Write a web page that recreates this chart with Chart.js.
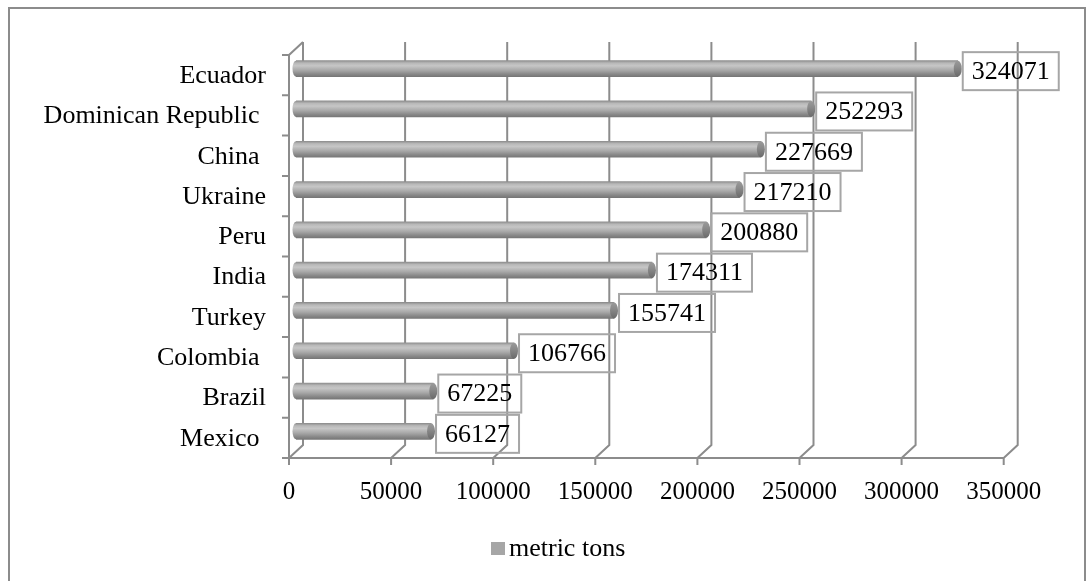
<!DOCTYPE html>
<html>
<head>
<meta charset="utf-8">
<script src="https://cdn.jsdelivr.net/npm/chart.js@4.4.1/dist/chart.umd.min.js"></script>
<style>
  html, body { margin: 0; padding: 0; background: #fff; }
  canvas { display: block; }
</style>
</head>
<body>
<canvas id="chart" width="1087" height="581"></canvas>
<script>
// data
const countries = ['Ecuador', 'Dominican Republic ', 'China ', 'Ukraine', 'Peru', 'India', 'Turkey', 'Colombia ', 'Brazil', 'Mexico '];
const tons = [324071, 252293, 227669, 217210, 200880, 174311, 155741, 106766, 67225, 66127];
const xTickValues = [0, 50000, 100000, 150000, 200000, 250000, 300000, 350000];
const seriesName = 'metric tons';

const FONT = '"Liberation Serif", "Times New Roman", serif';
const LINE = '#8c8c8c';
const DX = 7, DY = 6.5; // half depth of the 3d box

function cylGradient(ctx, yc, h) {
    const g = ctx.createLinearGradient(0, yc - h / 2, 0, yc + h / 2);
    g.addColorStop(0, '#8e8e8e');
    g.addColorStop(0.15, '#b8b8b8');
    g.addColorStop(0.32, '#c6c6c6');
    g.addColorStop(0.6, '#a8a8a8');
    g.addColorStop(0.85, '#878787');
    g.addColorStop(1, '#777777');
    return g;
}

const box3d = {
    id: 'box3d',
    beforeDatasetsDraw(chart) {
        const ctx = chart.ctx;
        const xs = chart.scales.x, ys = chart.scales.y;
        const ca = chart.chartArea;
        const fTop = ca.top + DY, fBot = ca.bottom + DY;
        const bTop = ca.top - DY, bBot = ca.bottom - DY;
        ctx.save();

        // outer frame
        ctx.strokeStyle = LINE;
        ctx.lineWidth = 2;
        ctx.strokeRect(9, 8, 1076, 600);

        ctx.beginPath();
        // back wall gridlines + floor diagonals
        xTickValues.forEach(v => {
            const px = xs.getPixelForValue(v);
            ctx.moveTo(px + DX, bTop);
            ctx.lineTo(px + DX, bBot);
            ctx.lineTo(px - DX, fBot);
            // tick below floor
            ctx.moveTo(px - DX, fBot);
            ctx.lineTo(px - DX, fBot + 7);
        });
        // left wall
        const x0 = xs.getPixelForValue(0);
        ctx.moveTo(x0 - DX, fBot);
        ctx.lineTo(x0 - DX, fTop);
        ctx.lineTo(x0 + DX, bTop);
        // floor front line
        ctx.moveTo(x0 - DX - 7, fBot);
        ctx.lineTo(xs.getPixelForValue(xTickValues[xTickValues.length - 1]) - DX, fBot);
        // category ticks on the left
        const step = (ca.bottom - ca.top) / countries.length;
        for (let k = 0; k <= countries.length; k++) {
            const ty = fTop + k * step;
            ctx.moveTo(x0 - DX - 7, ty);
            ctx.lineTo(x0 - DX, ty);
        }
        ctx.stroke();

        // x tick labels
        ctx.fillStyle = '#000';
        ctx.font = '25px ' + FONT;
        ctx.textAlign = 'center';
        ctx.textBaseline = 'middle';
        xTickValues.forEach(v => {
            ctx.fillText(String(v), xs.getPixelForValue(v) - DX, fBot + 34);
        });

        // category labels (trailing spaces kept as in the source)
        ctx.font = '26px ' + FONT;
        ctx.textAlign = 'right';
        countries.forEach((c, i) => {
            ctx.fillText(c, 266, ys.getPixelForValue(i) + DY + 1);
        });

        // legend
        ctx.fillStyle = '#a6a6a6';
        ctx.fillRect(491, 542, 14, 13);
        ctx.fillStyle = '#000';
        ctx.textAlign = 'left';
        ctx.textBaseline = 'alphabetic';
        ctx.font = '26px ' + FONT;
        ctx.fillText(seriesName, 509, 556);

        // left caps of cylinders
        const meta = chart.getDatasetMeta(0);
        meta.data.forEach(bar => {
            ctx.fillStyle = cylGradient(ctx, bar.y, bar.height);
            ctx.beginPath();
            ctx.ellipse(bar.base, bar.y, 3.5, bar.height / 2, 0, Math.PI / 2, Math.PI * 1.5);
            ctx.fill();
        });
        ctx.restore();
    },
    afterDatasetsDraw(chart) {
        const ctx = chart.ctx;
        const meta = chart.getDatasetMeta(0);
        ctx.save();
        meta.data.forEach((bar, i) => {
            // right end cap
            const g = ctx.createLinearGradient(0, bar.y - bar.height / 2, 0, bar.y + bar.height / 2);
            g.addColorStop(0, '#9a9a9a');
            g.addColorStop(0.4, '#8a8a8a');
            g.addColorStop(1, '#6a6a6a');
            ctx.fillStyle = g;
            ctx.beginPath();
            ctx.ellipse(bar.x, bar.y, 4, bar.height / 2, 0, 0, Math.PI * 2);
            ctx.fill();

            // data label box
            ctx.font = '26px ' + FONT;
            const txt = String(tons[i]);
            const w = ctx.measureText(txt).width + 18;
            const h = 38;
            const bx = bar.x + 5, by = bar.y + 2.5 - h / 2;
            ctx.strokeStyle = '#a6a6a6';
            ctx.lineWidth = 2;
            ctx.strokeRect(bx, by, w, h);
            ctx.fillStyle = '#000';
            ctx.textAlign = 'center';
            ctx.textBaseline = 'middle';
            ctx.fillText(txt, bx + w / 2, by + h / 2 + 1);
        });
        ctx.restore();
    }
};

new Chart(document.getElementById('chart'), {
    type: 'bar',
    data: {
        labels: countries,
        datasets: [{
            label: seriesName,
            data: tons,
            barThickness: 16,
            borderWidth: 0,
            backgroundColor: (c) => {
                const chart = c.chart;
                if (!chart.chartArea || c.dataIndex === undefined) return '#a6a6a6';
                const yc = chart.scales.y.getPixelForValue(c.dataIndex);
                return cylGradient(chart.ctx, yc, 16);
            }
        }]
    },
    options: {
        indexAxis: 'y',
        responsive: false,
        devicePixelRatio: 1,
        animation: false,
        layout: { padding: { left: 296, right: 76.3, top: 48.5, bottom: 129.5 } },
        plugins: { legend: { display: false }, tooltip: { enabled: false } },
        scales: {
            x: { display: false, min: 0, max: 350000 },
            y: { display: false }
        }
    },
    plugins: [box3d]
});
</script>
</body>
</html>
